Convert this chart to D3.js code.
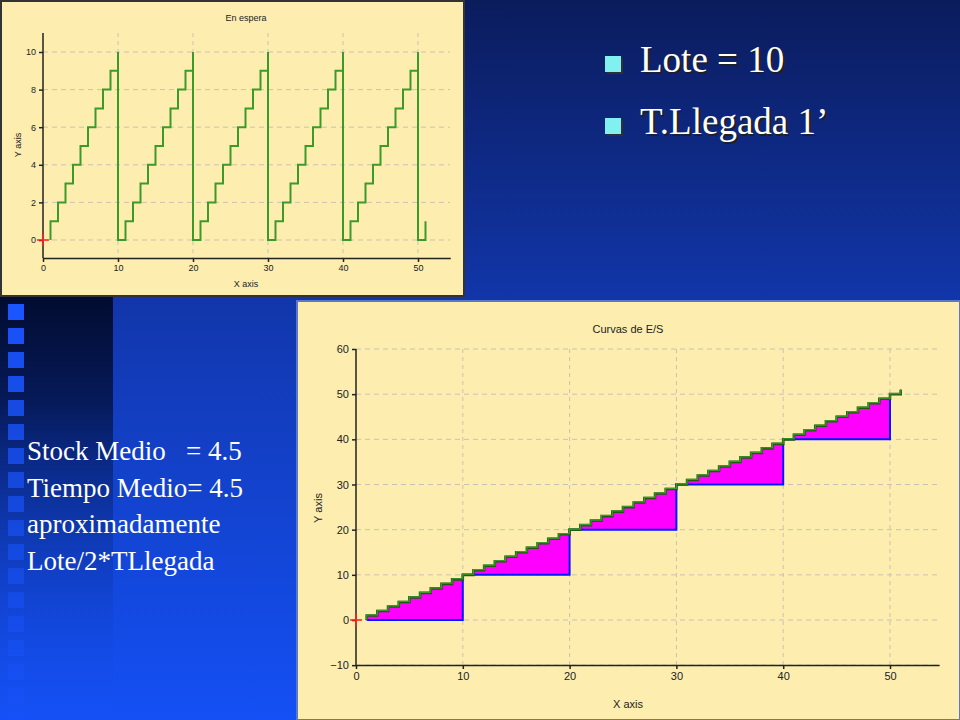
<!DOCTYPE html>
<html><head><meta charset="utf-8">
<script src="https://cdn.jsdelivr.net/npm/d3@7"></script>
<style>body{margin:0}svg{display:block}</style>
</head><body>
<svg id="slide" width="960" height="720"></svg>
<script>
// "En espera" (waiting) step series
const waitTimes = [1,
  1,2,3,4,5,6,7,8,9,10,10,
  11,12,13,14,15,16,17,18,19,20,20,
  21,22,23,24,25,26,27,28,29,30,30,
  31,32,33,34,35,36,37,38,39,40,40,
  41,42,43,44,45,46,47,48,49,50,50,
  51];
const waitValues = [0,
  1,2,3,4,5,6,7,8,9,10,0,
  1,2,3,4,5,6,7,8,9,10,0,
  1,2,3,4,5,6,7,8,9,10,0,
  1,2,3,4,5,6,7,8,9,10,0,
  1,2,3,4,5,6,7,8,9,10,0,
  1];
// "Curvas de E/S": cumulative arrivals and departures
const arrTimes = [1,1,2,3,4,5,6,7,8,9,10,11,12,13,14,15,16,17,18,19,20,21,22,23,24,25,26,27,28,29,30,31,32,33,34,35,36,37,38,39,40,41,42,43,44,45,46,47,48,49,50,51];
const arrValues = [0,1,2,3,4,5,6,7,8,9,10,11,12,13,14,15,16,17,18,19,20,21,22,23,24,25,26,27,28,29,30,31,32,33,34,35,36,37,38,39,40,41,42,43,44,45,46,47,48,49,50,51];
const depTimes = [1,10,20,30,40,50];
const depValues = [0,10,20,30,40,50];
const topYTicks = [0,2,4,6,8,10];
const botYTicks = [-10,0,10,20,30,40,50,60];
const xTicks = [0,10,20,30,40,50];
const bullets = ["Lote = 10", "T.Llegada 1\u2019"];
const noteLines = ["Stock Medio   = 4.5", "Tiempo Medio= 4.5", "aproximadamente", "Lote/2*TLlegada"];

const svg = d3.select("#slide");
const defs = svg.append("defs");
const bg = defs.append("linearGradient").attr("id", "bg").attr("x1", 0).attr("y1", 0).attr("x2", 0).attr("y2", 1);
bg.append("stop").attr("offset", "0").attr("stop-color", "#0b1c5c");
bg.append("stop").attr("offset", "0.45").attr("stop-color", "#1238b0");
bg.append("stop").attr("offset", "1").attr("stop-color", "#1450f5");
const strip = defs.append("linearGradient").attr("id", "strip").attr("x1", 0).attr("y1", 0).attr("x2", 0).attr("y2", 1);
strip.append("stop").attr("offset", "0").attr("stop-color", "#020c30");
strip.append("stop").attr("offset", "0.25").attr("stop-color", "#061a5a");
strip.append("stop").attr("offset", "1").attr("stop-color", "#1450f5").attr("stop-opacity", 0);

svg.append("rect").attr("width", 960).attr("height", 720).attr("fill", "url(#bg)");
svg.append("rect").attr("x", 0).attr("y", 297).attr("width", 113).attr("height", 423).attr("fill", "url(#strip)");
svg.append("g").selectAll("rect").data(d3.range(18)).join("rect")
  .attr("x", 8).attr("y", i => 304 + i * 24).attr("width", 16).attr("height", 16)
  .attr("fill", "#1a55ff").attr("opacity", i => 1 - i * 0.045);

// bullets top right
const bl = svg.append("g").selectAll("g").data(bullets).join("g")
  .attr("transform", (d, i) => `translate(605,${72 + i * 62})`);
bl.append("rect").attr("x", 2).attr("y", -14).attr("width", 16).attr("height", 16).attr("fill", "#303030");
bl.append("rect").attr("y", -16).attr("width", 16).attr("height", 16).attr("fill", "#80f0f0");
bl.append("text").attr("x", 37).attr("y", 2).attr("fill", "#202020").text(d => d)
  .attr("font-family", "Liberation Serif").attr("font-size", 37);
bl.append("text").attr("x", 35).attr("y", 0).attr("fill", "#fff").text(d => d)
  .attr("font-family", "Liberation Serif").attr("font-size", 37);

svg.append("text").attr("font-family", "Liberation Serif").attr("font-size", 27).attr("fill", "#fff")
  .selectAll("tspan").data(noteLines).join("tspan")
  .attr("x", 27).attr("y", (d, i) => 460 + i * 36.5).attr("xml:space", "preserve").text(d => d);

function panel(box, title, xRange, yRange, yDom, yTicks, fs) {
  const g = svg.append("g");
  g.append("rect").attr("x", box.x).attr("y", box.y).attr("width", box.w).attr("height", box.h)
    .attr("fill", "#fdeeb0").attr("stroke", box.stroke).attr("stroke-width", 2);
  const x = d3.scaleLinear().domain([0, 50]).range(xRange);
  const y = d3.scaleLinear().domain(yDom).range(yRange);
  const gridC = "#c9c1b6";
  g.append("g").selectAll("line").data(yTicks).join("line")
    .attr("x1", xRange[0]).attr("x2", box.gridEnd).attr("y1", d => y(d)).attr("y2", d => y(d))
    .attr("stroke", gridC).attr("stroke-dasharray", "5,4");
  g.append("g").selectAll("line").data(xTicks.slice(1)).join("line")
    .attr("x1", d => x(d)).attr("x2", d => x(d)).attr("y1", box.axisTop).attr("y2", box.axisY)
    .attr("stroke", gridC).attr("stroke-dasharray", "4,4");
  const ax = g.append("g").attr("transform", `translate(0,${box.axisY})`)
    .call(d3.axisBottom(x.copy().domain([0, box.xMax]).range([xRange[0], xRange[0] + (xRange[1] - xRange[0]) * box.xMax / 50]))
      .tickValues(xTicks).tickSize(4).tickSizeOuter(0));
  const ay = g.append("g").attr("transform", `translate(${xRange[0]},0)`)
    .call(d3.axisLeft(y.copy()).tickValues(yTicks).tickSize(4).tickSizeOuter(0));
  ay.select(".domain").attr("d", `M0,${box.axisY}V${box.axisTop}`);
  [ax, ay].forEach(a => {
    a.selectAll("path,line").attr("stroke", "#222").attr("stroke-width", 1.5);
    a.selectAll("text").attr("fill", "#222").attr("font-family", "Liberation Sans").attr("font-size", fs);
  });
  g.append("text").attr("x", box.titleX).attr("y", box.titleY).attr("text-anchor", "middle")
    .attr("font-family", "Liberation Sans").attr("font-size", fs).attr("fill", "#222").text(title);
  g.append("text").attr("x", box.titleX).attr("y", box.xlabY).attr("text-anchor", "middle")
    .attr("font-family", "Liberation Sans").attr("font-size", fs).attr("fill", "#222").text("X axis");
  g.append("text").attr("transform", `translate(${box.ylabX},${box.ylabY}) rotate(-90)`).attr("text-anchor", "middle")
    .attr("font-family", "Liberation Sans").attr("font-size", fs).attr("fill", "#222").text("Y axis");
  return {g, x, y};
}

function cross(p) {
  const cx = p.x(0), cy = p.y(0);
  p.g.append("path").attr("d", `M${cx - 6},${cy}H${cx + 6}M${cx},${cy - 6}V${cy + 6}`)
    .attr("stroke", "#ff2020").attr("stroke-width", 1.5);
}

// top chart
const topChart = panel({x: 1, y: 1, w: 463, h: 295, stroke: "#333", gridEnd: 450, axisY: 258, axisTop: 33, xMax: 54.3,
  titleX: 246, titleY: 21, xlabY: 287, ylabX: 21, ylabY: 145}, "En espera", [43, 418], [240, 52], [0, 10], topYTicks, 9);
const waitPts = waitTimes.map((t, i) => [t, waitValues[i]]);
topChart.g.append("path").datum(waitPts)
  .attr("d", d3.line().x(d => topChart.x(d[0])).y(d => topChart.y(d[1])).curve(d3.curveStepAfter))
  .attr("fill", "none").attr("stroke", "#3c9a2a").attr("stroke-width", 2);
cross(topChart);

// bottom chart
const botChart = panel({x: 297, y: 301, w: 663, h: 419, stroke: "#5a78c8", gridEnd: 940, axisY: 665, axisTop: 349, xMax: 54.6,
  titleX: 628, titleY: 333, xlabY: 708, ylabX: 322, ylabY: 508}, "Curvas de E/S", [356, 890], [620, 349], [0, 60], botYTicks, 11);
const depAt = t => depValues[d3.bisectRight(depTimes, t) - 1];
const fillPts = arrTimes.map((t, i) => [t, arrValues[i]]).filter(d => d[0] <= 50);
botChart.g.append("path").datum(fillPts)
  .attr("d", d3.area().x(d => botChart.x(d[0])).y1(d => botChart.y(d[1])).y0(d => botChart.y(depAt(d[0]))).curve(d3.curveStepAfter))
  .attr("fill", "#ff00ff");
botChart.g.append("path").datum(depTimes.map((t, i) => [t, depValues[i]]))
  .attr("d", d3.line().x(d => botChart.x(d[0])).y(d => botChart.y(d[1])).curve(d3.curveStepAfter))
  .attr("fill", "none").attr("stroke", "#0018ff").attr("stroke-width", 2);
const arrLine = d3.line().x(d => botChart.x(d[0])).y(d => botChart.y(d[1])).curve(d3.curveStepAfter);
const arrPts = arrTimes.map((t, i) => [t, arrValues[i]]);
botChart.g.append("path").datum(arrPts).attr("d", arrLine).attr("fill", "none").attr("stroke", "#1f5a12").attr("stroke-width", 2.6);
botChart.g.append("path").datum(arrPts).attr("d", arrLine).attr("fill", "none").attr("stroke", "#3c9a2a").attr("stroke-width", 1.2)
  .attr("transform", "translate(0,-0.6)");
cross(botChart);
</script>
</body></html>
